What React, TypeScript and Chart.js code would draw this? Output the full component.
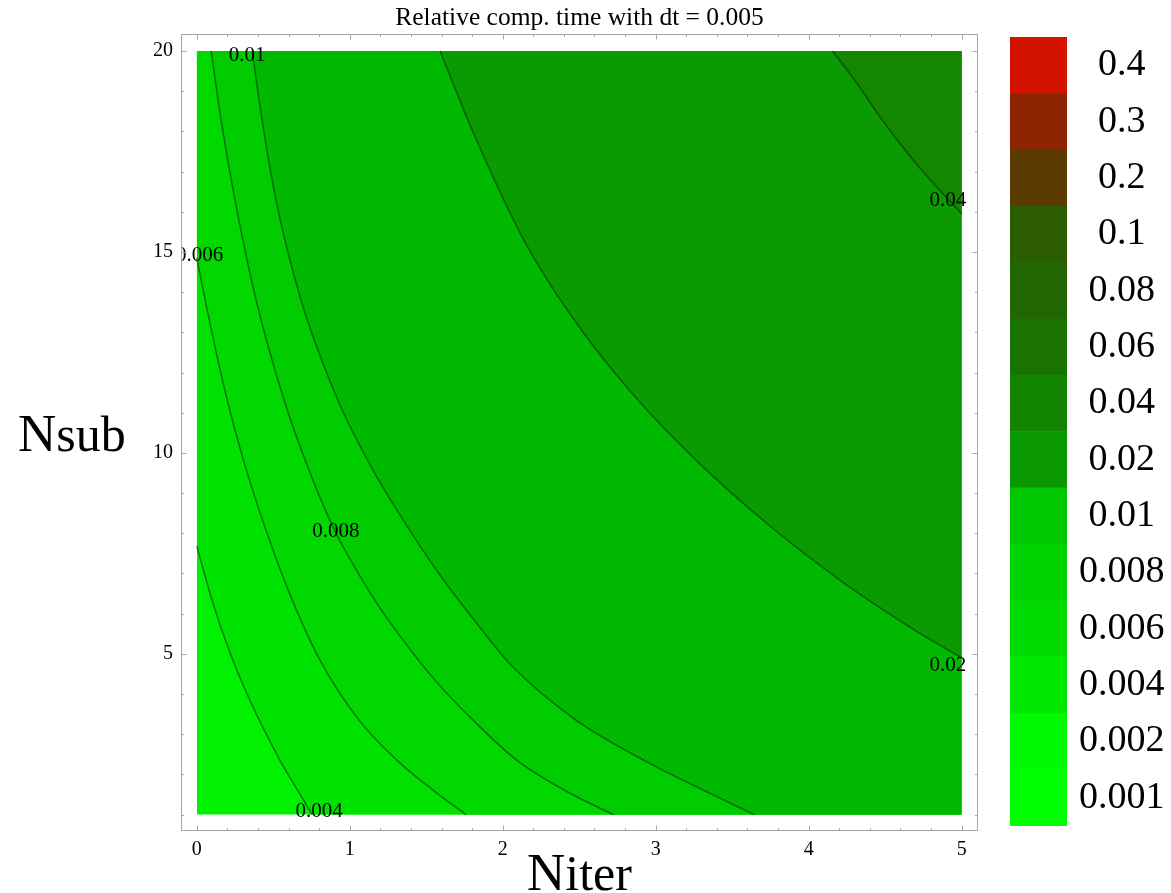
import React, { useEffect, useRef } from 'react';
import { Chart, registerables } from 'chart.js';

Chart.register(...registerables);

const SERIF = '"Liberation Serif", "Times New Roman", serif';

// ---- chart text ----
const chartTitle = 'Relative comp. time with dt = 0.005';
const xTitleMain = 'N';
const xTitleSub = 'iter';
const yTitleMain = 'N';
const yTitleSub = 'sub';

// ---- axes ----
const niterTicks = [0, 1, 2, 3, 4, 5];
const nsubTicks = [5, 10, 15, 20];
const niterRange = [0, 5];
const nsubRange = [1, 20];

// ---- contour lines (Niter, Nsub) ----
const contourLevels = ['0.004', '0.006', '0.008', '0.01', '0.02', '0.04'];

const c004X = [0, 0.100, 0.211, 0.348, 0.544, 0.649, 0.754];
const c004Y = [7.68, 6.33, 5.09, 3.84, 2.35, 1.67, 1.0];

const c006X = [0, 0.100, 0.199, 0.305, 0.452, 0.625, 0.806, 1.061, 1.309, 1.571, 1.761];
const c006Y = [14.85, 12.98, 11.31, 9.82, 8.08, 6.33, 4.84, 3.35, 2.35, 1.53, 1.0];

const c008X = [0.094, 0.159, 0.250, 0.388, 0.571, 0.734, 0.904, 1.165, 1.329, 1.558, 1.806, 2.093, 2.407, 2.721];
const c008Y = [20, 18.28, 16.29, 13.8, 11.31, 9.57, 8.05, 6.33, 5.44, 4.34, 3.35, 2.35, 1.6, 1.0];

const c01X = [0.362, 0.427, 0.518, 0.682, 0.923, 1.152, 1.329, 1.571, 1.813, 2.054, 2.479, 2.924, 3.355, 3.643];
const c01Y = [20, 18.28, 16.29, 13.8, 11.31, 9.57, 8.45, 7.06, 5.84, 4.72, 3.35, 2.35, 1.53, 1.0];

const c02X = [1.59, 1.812, 2.139, 2.45, 2.832, 3.263, 3.747, 4.231, 4.714, 5.0];
const c02Y = [20, 17.93, 15.29, 13.4, 11.54, 9.82, 8.18, 6.76, 5.54, 4.9];

const c04X = [4.156, 4.31, 4.47, 4.72, 5.0];
const c04Y = [20, 19.23, 18.34, 17.12, 15.95];

// region colours: below first contour, then above each contour
const regionColors = ['#00f200', '#00e300', '#00d800', '#00cc00', '#00b900', '#0a9a02', '#138700'];
const contourLineColor = 'rgba(0,50,0,0.6)';

// contour labels (text, Niter, Nsub)
const labelText = ['0.004', '0.006', '0.008', '0.01', '0.02', '0.04'];
const labelX = [0.80, 0.018, 0.91, 0.33, 4.91, 4.91];
const labelY = [1.08, 14.9, 8.05, 19.9, 4.71, 16.29];

// ---- colour bar legend ----
const legendLabels = ['0.4', '0.3', '0.2', '0.1', '0.08', '0.06', '0.04', '0.02', '0.01', '0.008', '0.006', '0.004', '0.002', '0.001'];
const legendColors = ['#d41200', '#8e2400', '#5a3a00', '#2b5c00', '#226600', '#1a7200', '#138400', '#0a9800', '#00c800', '#00d400', '#00dc00', '#00e800', '#00f800', '#00ff00'];
const legendBand = [0, 1];

function pts(xs: number[], ys: number[]) {
  return xs.map((x, i) => ({ x, y: ys[i] }));
}

const framePlugin = {
  id: 'mmaFrame',
  afterDraw(chart: any) {
    const { ctx, chartArea: a, scales } = chart;
    const xs = scales.x;
    const ys = scales.y;
    const L = Math.round(a.left) + 0.5;
    const R = Math.round(a.right) - 0.5;
    const T = Math.round(a.top) + 0.5;
    const B = Math.round(a.bottom) - 0.5;
    ctx.save();
    ctx.strokeStyle = '#a8a8a8';
    ctx.lineWidth = 1;
    ctx.strokeRect(L, T, R - L, B - T);
    ctx.beginPath();
    for (let i = 0; i < niterTicks.length; i++) {
      for (let m = 0; m < 5; m++) {
        if (i === niterTicks.length - 1 && m > 0) break;
        const v = niterTicks[i] + m * 0.2;
        const len = m === 0 ? 5 : 2.5;
        const px = Math.round(xs.getPixelForValue(v)) + 0.5;
        ctx.moveTo(px, B); ctx.lineTo(px, B - len);
        ctx.moveTo(px, T); ctx.lineTo(px, T + len);
      }
    }
    for (let v = nsubRange[0]; v <= nsubRange[1]; v++) {
      const major = nsubTicks.includes(v);
      const len = major ? 5 : 2.5;
      const py = Math.round(ys.getPixelForValue(v)) + 0.5;
      ctx.moveTo(L, py); ctx.lineTo(L + len, py);
      ctx.moveTo(R, py); ctx.lineTo(R - len, py);
    }
    ctx.stroke();

    // axis titles
    ctx.fillStyle = '#000';
    ctx.textBaseline = 'alphabetic';
    ctx.textAlign = 'left';
    const bigFont = `53px ${SERIF}`;
    const smallFont = `50px ${SERIF}`;
    const yBase = (a.top + a.bottom) / 2 + 18.5;
    ctx.font = bigFont;
    ctx.fillText(yTitleMain, 18, yBase);
    const wN = ctx.measureText(yTitleMain).width;
    ctx.font = smallFont;
    ctx.fillText(yTitleSub, 18 + wN, yBase);
    ctx.font = bigFont;
    const wN2 = ctx.measureText(xTitleMain).width;
    ctx.font = smallFont;
    const wS2 = ctx.measureText(xTitleSub).width;
    const x0 = (a.left + a.right) / 2 - (wN2 + wS2) / 2;
    const xBase = a.bottom + 59;
    ctx.font = bigFont;
    ctx.fillText(xTitleMain, x0, xBase);
    ctx.font = smallFont;
    ctx.fillText(xTitleSub, x0 + wN2, xBase);
    ctx.restore();
  },
};

const contourLabelPlugin = {
  id: 'contourLabels',
  afterDatasetsDraw(chart: any) {
    const { ctx, chartArea: a, scales } = chart;
    ctx.save();
    ctx.beginPath();
    ctx.rect(a.left + 1, a.top, a.right - a.left - 1, a.bottom - a.top);
    ctx.clip();
    ctx.font = `21px ${SERIF}`;
    ctx.fillStyle = '#000';
    ctx.textAlign = 'center';
    ctx.textBaseline = 'middle';
    labelText.forEach((t, i) => {
      ctx.fillText(t, scales.x.getPixelForValue(labelX[i]), scales.y.getPixelForValue(labelY[i]));
    });
    ctx.restore();
  },
};

export default function App() {
  const mainRef = useRef<HTMLCanvasElement>(null);
  const barRef = useRef<HTMLCanvasElement>(null);

  useEffect(() => {
    const contours = [
      { xs: c004X, ys: c004Y },
      { xs: c006X, ys: c006Y },
      { xs: c008X, ys: c008Y },
      { xs: c01X, ys: c01Y },
      { xs: c02X, ys: c02Y },
      { xs: c04X, ys: c04Y },
    ];
    const top = nsubRange[1];
    const bottom = nsubRange[0];
    const datasets: any[] = [];
    datasets.push({
      label: 'below ' + contourLevels[0],
      data: [{ x: niterRange[0], y: bottom }, { x: niterRange[1], y: bottom }],
      fill: { value: top },
      backgroundColor: regionColors[0],
      borderColor: 'transparent',
      borderWidth: 0,
      pointRadius: 0,
      order: 100,
    });
    contours.forEach((c, k) => {
      const lastX = c.xs[c.xs.length - 1];
      const lastY = c.ys[c.ys.length - 1];
      if (lastY === bottom && lastX < niterRange[1]) {
        datasets.push({
          label: 'rest ' + contourLevels[k],
          data: [{ x: lastX, y: bottom }, { x: niterRange[1], y: bottom }],
          fill: { value: top },
          backgroundColor: regionColors[k + 1],
          borderColor: 'transparent',
          borderWidth: 0,
          pointRadius: 0,
          order: 91 - 2 * k,
        });
      }
      datasets.push({
        label: contourLevels[k],
        data: pts(c.xs, c.ys),
        fill: { value: top },
        backgroundColor: regionColors[k + 1],
        borderColor: contourLineColor,
        borderWidth: 1.5,
        pointRadius: 0,
        cubicInterpolationMode: 'monotone',
        order: 90 - 2 * k,
      });
    });

    const main = new Chart(mainRef.current as HTMLCanvasElement, {
      type: 'line',
      data: { datasets },
      plugins: [contourLabelPlugin, framePlugin],
      options: {
        responsive: false,
        animation: false,
        events: [],
        layout: { padding: { left: 0, right: 22, top: 0, bottom: 0 } },
        plugins: {
          legend: { display: false },
          tooltip: { enabled: false },
          title: {
            display: true,
            text: chartTitle,
            color: '#000',
            fullSize: false,
            font: { family: SERIF, size: 25.5, weight: 'normal', lineHeight: 1.2 },
            padding: { top: 3.4, bottom: 0 },
          },
        },
        scales: {
          x: {
            type: 'linear',
            min: -0.103,
            max: 5.107,
            grid: { display: false, drawTicks: false },
            border: { display: false },
            ticks: {
              color: '#000',
              font: { family: SERIF, size: 20 },
              padding: 7,
              autoSkip: false,
              maxRotation: 0,
              callback: (v: any) => String(v),
            },
            afterBuildTicks: (s: any) => {
              s.ticks = niterTicks.map((v) => ({ value: v }));
            },
            afterFit: (s: any) => {
              s.height = 62;
            },
          },
          y: {
            type: 'linear',
            min: 0.592,
            max: 20.423,
            grid: { display: false, drawTicks: false },
            border: { display: false },
            ticks: {
              color: '#000',
              font: { family: SERIF, size: 20 },
              padding: 8,
              autoSkip: false,
              callback: (v: any) => String(v),
            },
            afterBuildTicks: (s: any) => {
              s.ticks = nsubTicks.map((v) => ({ value: v }));
            },
            afterFit: (s: any) => {
              s.width = 181;
            },
          },
        },
      } as any,
    });

    const bar = new Chart(barRef.current as HTMLCanvasElement, {
      type: 'bar',
      data: {
        labels: legendLabels,
        datasets: [
          {
            data: legendLabels.map(() => legendBand),
            backgroundColor: legendColors,
            borderWidth: 0,
            barPercentage: 1,
            categoryPercentage: 1,
          },
        ],
      },
      options: {
        indexAxis: 'y',
        responsive: false,
        animation: false,
        events: [],
        layout: { padding: { left: 10, top: 37, bottom: 67, right: 0 } },
        plugins: { legend: { display: false }, tooltip: { enabled: false } },
        scales: {
          x: { display: false, min: 0, max: 1 },
          y: {
            position: 'right',
            grid: { display: false, drawTicks: false },
            border: { display: false },
            ticks: {
              color: '#000',
              font: { family: SERIF, size: 38 },
              padding: 12,
              crossAlign: 'center',
              autoSkip: false,
            },
            afterFit: (s: any) => {
              s.width = 104;
            },
          },
        },
      } as any,
    });

    return () => {
      main.destroy();
      bar.destroy();
    };
  }, []);

  return (
    <div style={{ position: 'absolute', left: 0, top: 0, width: 1171, height: 893, background: '#fff' }}>
      <canvas ref={mainRef} width={1000} height={893} style={{ position: 'absolute', left: 0, top: 0 }} />
      <canvas ref={barRef} width={171} height={893} style={{ position: 'absolute', left: 1000, top: 0 }} />
    </div>
  );
}
